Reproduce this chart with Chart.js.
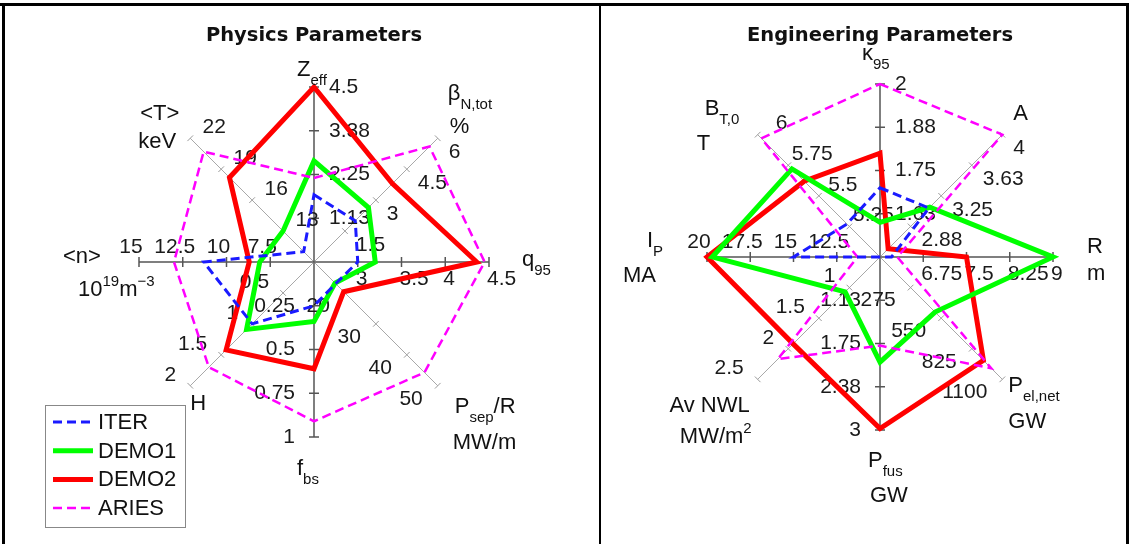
<!DOCTYPE html>
<html>
<head>
<meta charset="utf-8">
<script src="https://cdn.jsdelivr.net/npm/chart.js@4.4.1/dist/chart.umd.min.js"></script>
<style>
  body { margin: 0; background: #fff; }
  #wrap { position: relative; width: 1129px; height: 544px; overflow: hidden; }
  #left { position: absolute; left: 0; top: 0; width: 600px; height: 544px; }
  #right { position: absolute; left: 601px; top: 0; width: 528px; height: 544px; }
  .frame { position: absolute; background: #000; }
</style>
</head>
<body>
<div id="wrap">
  <canvas id="left" width="600" height="544"></canvas>
  <canvas id="right" width="528" height="544"></canvas>
  <div class="frame" style="left:0;top:3px;width:1129px;height:3px"></div>
  <div class="frame" style="left:2px;top:3px;width:3px;height:541px"></div>
  <div class="frame" style="left:599px;top:3px;width:2px;height:541px"></div>
  <div class="frame" style="left:1126px;top:3px;width:3px;height:541px"></div>
</div>
<script>
// ---- Physics parameters (clockwise from top) ----
const physAxes = ['Zeff', 'βN,tot', 'q95', 'Psep/R', 'fbs', 'H', '<n>', '<T>'];
const physMin = [0, 0, 2.5, 10, 0, 0, 5, 10];
const physMax = [4.5, 6, 4.5, 50, 1, 2, 15, 22];
const physTicks = [
  ['1.13', '2.25', '3.38', '4.5'],
  ['1.5', '3', '4.5', '6'],
  ['3', '3.5', '4', '4.5'],
  ['20', '30', '40', '50'],
  ['0.25', '0.5', '0.75', '1'],
  ['0.5', '1', '1.5', '2'],
  ['7.5', '10', '12.5', '15'],
  ['13', '16', '19', '22']
];
const physITER = [1.73, 2.0, 3.0, 17, 0.25, 1.0, 11.3, 11];
const physDEMO1 = [2.6, 2.64, 3.2, 16.8, 0.34, 1.09, 8.1, 13];
const physDEMO2 = [4.5, 3.8, 4.36, 19.6, 0.61, 1.42, 8.7, 18.2];
const physARIES = [2.16, 5.6, 4.45, 45.7, 0.91, 1.7, 13.0, 20.7];

// ---- Engineering parameters ----
const engAxes = ['κ95', 'A', 'R', 'Pel,net', 'Pfus', 'Av NWL', 'Ip', 'BT,0'];
const engMin = [1.5, 2.5, 6, 0, 0.5, 0.5, 10, 5];
const engMax = [2, 4, 9, 1100, 3, 2.5, 20, 6];
const engTicks = [
  ['1.63', '1.75', '1.88', '2'],
  ['2.88', '3.25', '3.63', '4'],
  ['6.75', '7.5', '8.25', '9'],
  ['275', '550', '825', '1100'],
  ['1.13', '1.75', '2.38', '3'],
  ['1', '1.5', '2', '2.5'],
  ['12.5', '15', '17.5', '20'],
  ['5.25', '5.5', '5.75', '6']
];
const engITER = [1.70, 3.1, 6.2, 0, 0.5, 0.5, 15, 5.27];
const engDEMO1 = [1.6, 3.11, 9, 495, 2.02, 1.07, 19.7, 5.72];
const engDEMO2 = [1.80, 2.6, 7.5, 930, 2.98, 1.92, 20, 5.62];
const engARIES = [2.0, 4.0, 6.3, 1000, 1.78, 2.17, 11.3, 5.97];

const seriesNames = ['ITER', 'DEMO1', 'DEMO2', 'ARIES'];

const FONT = '"Liberation Sans", Arial, sans-serif';

// where tick labels sit relative to their tick, by spoke direction
const tickPlace = [
  { align: 'left', dx: 15, dy: 0 },
  { align: 'left', dx: 11, dy: 14 },
  { align: 'left', dx: -2, dy: 17 },
  { align: 'right', dx: -15, dy: 13 },
  { align: 'right', dx: -19, dy: 0 },
  { align: 'right', dx: -14, dy: -11 },
  { align: 'center', dx: -8, dy: -15 },
  { align: 'center', dx: 24, dy: -11 }
];

// axis titles, parts = [text, 'sub'|'sup'|undefined]
const physTitles = [
  [{ p: [['Z'], ['eff', 'sub']], dx: -17, dy: -11 }],
  [{ p: [['β'], ['N,tot', 'sub']], dx: 10, dy: -38 }, { p: [['%']], dx: 12, dy: -5 }],
  [{ p: [['q'], ['95', 'sub']], dx: 33, dy: 4 }],
  [{ p: [['P'], ['sep', 'sub'], ['/R']], dx: 17, dy: 27 }, { p: [['MW/m']], dx: 15, dy: 63 }],
  [{ p: [['f'], ['bs', 'sub']], dx: -17, dy: 38 }],
  [{ p: [['H']], dx: 0, dy: 24 }],
  [{ p: [['<n>']], dx: -76, dy: 1 }, { p: [['10'], ['19', 'sup'], ['m'], ['−3', 'sup']], dx: -61, dy: 34 }],
  [{ p: [['<T>']], dx: -50, dy: -18 }, { p: [['keV']], dx: -52, dy: 10 }]
];
const engTitles = [
  [{ p: [['κ'], ['95', 'sub']], dx: -18, dy: -24 }],
  [{ p: [['A']], dx: 11, dy: -15 }],
  [{ p: [['R']], dx: 34, dy: -4 }, { p: [['m']], dx: 34, dy: 23 }],
  [{ p: [['P'], ['el,net', 'sub']], dx: 6, dy: 13 }, { p: [['GW']], dx: 6, dy: 49 }],
  [{ p: [['P'], ['fus', 'sub']], dx: -12, dy: 37 }, { p: [['GW']], dx: -10, dy: 72 }],
  [{ p: [['Av NWL']], dx: -8, dy: 33, align: 'right' }, { p: [['MW/m'], ['2', 'sup']], dx: -6, dy: 64, align: 'right' }],
  [{ p: [['I'], ['P', 'sub']], dx: -60, dy: -10 }, { p: [['MA']], dx: -84, dy: 25 }],
  [{ p: [['B'], ['T,0', 'sub']], dx: -53, dy: -20 }, { p: [['T']], dx: -61, dy: 15 }]
];

function norm(vals, mins, maxs) {
  return vals.map((v, i) => (v - mins[i]) / (maxs[i] - mins[i]));
}

function partFont(mode) {
  return (mode ? '15px ' : '22px ') + FONT;
}

function drawParts(ctx, parts, x, y, align) {
  let w = 0;
  parts.forEach(p => { ctx.font = partFont(p[1]); w += ctx.measureText(p[0]).width; });
  let cx = align === 'right' ? x - w : align === 'center' ? x - w / 2 : x;
  ctx.textAlign = 'left';
  ctx.textBaseline = 'alphabetic';
  parts.forEach(p => {
    ctx.font = partFont(p[1]);
    const off = p[1] === 'sub' ? 9 : p[1] === 'sup' ? -10 : 0;
    ctx.fillText(p[0], cx, y + off);
    cx += ctx.measureText(p[0]).width;
  });
}

function decor(ticks, titles, heading, withLegend) {
  return {
    id: 'decor',
    beforeDatasetsDraw(chart) {
      const ctx = chart.ctx, r = chart.scales.r;
      ctx.save();
      for (let i = 0; i < ticks.length; i++) {
        const a = r.getIndexAngle(i) - Math.PI / 2;
        const main = i % 2 === 0;
        const px = -Math.sin(a), py = Math.cos(a);
        const half = main ? 5 : 4;
        ticks[i].forEach((lab, k) => {
          const p = r.getPointPositionForValue(i, (k + 1) / ticks[i].length);
          ctx.strokeStyle = main ? '#555' : '#999';
          ctx.lineWidth = main ? 1.5 : 1;
          ctx.beginPath();
          ctx.moveTo(p.x - px * half, p.y - py * half);
          ctx.lineTo(p.x + px * half, p.y + py * half);
          ctx.stroke();
          const pl = tickPlace[i];
          ctx.fillStyle = '#1a1a1a';
          ctx.font = '21px ' + FONT;
          ctx.textAlign = pl.align;
          ctx.textBaseline = 'middle';
          ctx.fillText(lab, p.x + pl.dx, p.y + pl.dy);
        });
      }
      ctx.restore();
    },
    afterDraw(chart) {
      const ctx = chart.ctx, r = chart.scales.r;
      ctx.save();
      ctx.fillStyle = '#111';
      titles.forEach((lines, i) => {
        const o = r.getPointPositionForValue(i, 1);
        lines.forEach(l => drawParts(ctx, l.p, o.x + l.dx, o.y + l.dy, l.align || 'left'));
      });
      ctx.font = 'bold 19.5px "DejaVu Sans", sans-serif';
      ctx.textAlign = 'center';
      ctx.textBaseline = 'alphabetic';
      ctx.fillText(heading, r.xCenter, 41);

      if (withLegend) {
        ctx.fillStyle = '#fff';
        ctx.fillRect(45, 405, 140, 122);
        ctx.strokeStyle = '#888';
        ctx.lineWidth = 1;
        ctx.strokeRect(45.5, 405.5, 140, 122);
        chart.data.datasets.forEach((ds, i) => {
          const y = 422 + i * 28.7;
          ctx.strokeStyle = ds.borderColor;
          ctx.lineWidth = ds.borderWidth;
          ctx.setLineDash(ds.borderDash || []);
          ctx.beginPath();
          ctx.moveTo(53, y);
          ctx.lineTo(93, y);
          ctx.stroke();
          ctx.setLineDash([]);
          ctx.fillStyle = '#111';
          ctx.font = '22px ' + FONT;
          ctx.textAlign = 'left';
          ctx.textBaseline = 'middle';
          ctx.fillText(ds.label, 98, y + 1);
        });
      }
      ctx.restore();
    }
  };
}

function makeSets(iter, demo1, demo2, aries, mins, maxs) {
  return [
    { label: seriesNames[0], data: norm(iter, mins, maxs), borderColor: '#1a1aff', borderWidth: 3, borderDash: [9, 5], order: 0 },
    { label: seriesNames[1], data: norm(demo1, mins, maxs), borderColor: '#00ff00', borderWidth: 5, order: 2 },
    { label: seriesNames[2], data: norm(demo2, mins, maxs), borderColor: '#ff0000', borderWidth: 5, order: 3 },
    { label: seriesNames[3], data: norm(aries, mins, maxs), borderColor: '#ff00ff', borderWidth: 2.5, borderDash: [9, 5], order: 1 }
  ];
}

function radarOptions(pad) {
  return {
    responsive: false,
    animation: false,
    layout: { padding: pad },
    elements: {
      line: { tension: 0, fill: false, borderJoinStyle: 'miter' },
      point: { radius: 0, hoverRadius: 0 }
    },
    plugins: { legend: { display: false }, tooltip: { enabled: false } },
    scales: {
      r: {
        min: 0,
        max: 1,
        ticks: { display: false },
        grid: { display: false },
        pointLabels: { display: false },
        angleLines: {
          display: true,
          color: c => (c.index % 2 ? '#a8a8a8' : '#555'),
          lineWidth: c => (c.index % 2 ? 1 : 1.5)
        }
      }
    }
  };
}

new Chart(document.getElementById('left'), {
  type: 'radar',
  data: { labels: physAxes, datasets: makeSets(physITER, physDEMO1, physDEMO2, physARIES, physMin, physMax) },
  options: radarOptions({ left: 139, right: 111, top: 87, bottom: 107 }),
  plugins: [decor(physTicks, physTitles, 'Physics Parameters', true)]
});

new Chart(document.getElementById('right'), {
  type: 'radar',
  data: { labels: engAxes, datasets: makeSets(engITER, engDEMO1, engDEMO2, engARIES, engMin, engMax) },
  options: radarOptions({ left: 106, right: 76, top: 84, bottom: 114 }),
  plugins: [decor(engTicks, engTitles, 'Engineering Parameters', false)]
});
</script>
</body>
</html>
